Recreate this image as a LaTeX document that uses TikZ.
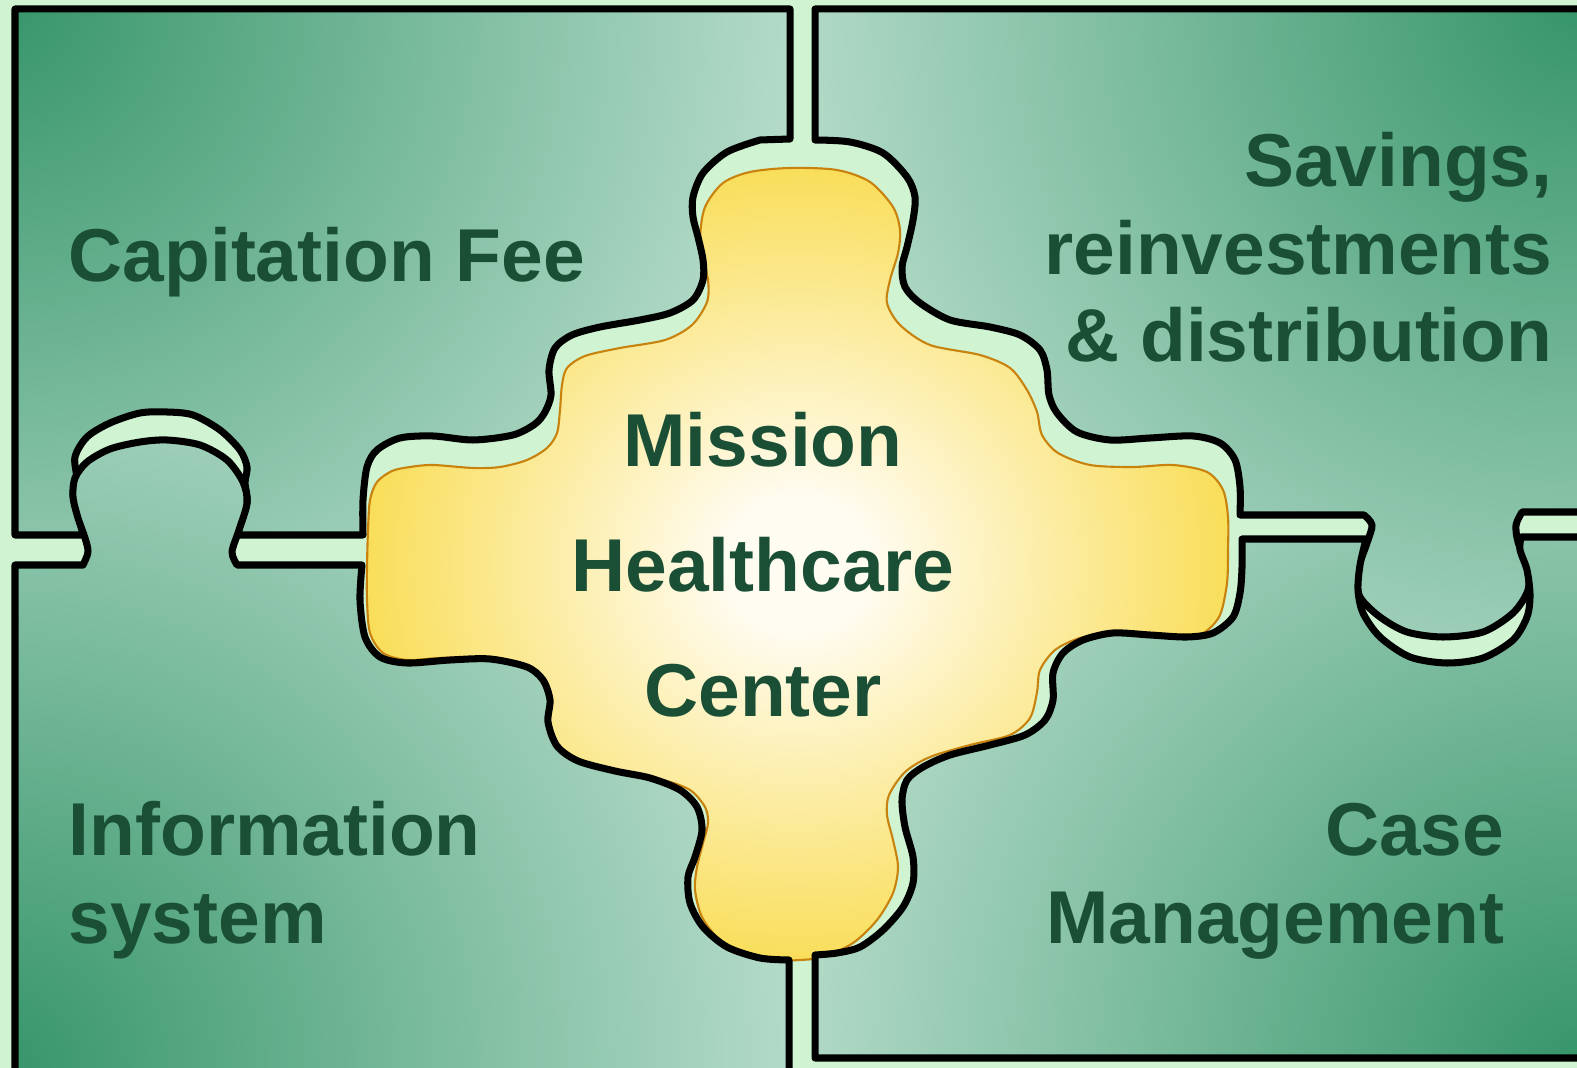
\documentclass[tikz,border=0pt]{standalone}
\usepackage{fontspec}
\setmainfont{Liberation Sans}

\definecolor{gapgreen}{HTML}{D0F3D2}
\definecolor{darkpiece}{HTML}{36956A}
\definecolor{lightpiece}{HTML}{B8DDCC}
\definecolor{textgreen}{HTML}{1A4F35}
\definecolor{rimorange}{HTML}{C8820E}
\definecolor{centercream}{HTML}{FFFCF2}
\definecolor{edgeyellow}{HTML}{F9DE5A}
\pgfdeclareradialshading{centerglow}{\pgfpoint{0bp}{0bp}}{color(0bp)=(centercream); color(4bp)=(centercream); color(25bp)=(edgeyellow); color(50bp)=(edgeyellow)}

\begin{document}
\begin{tikzpicture}[x=0.01cm, y=-0.01cm,
  piece/.style={draw=black, fill=lightpiece, line width=2pt, line join=round},
  shadefrom/.style={path picture={\shade[inner color=darkpiece, outer color=lightpiece] (#1) circle (820);}},
  piecetext/.style={text=textgreen, inner sep=0pt, font=\fontsize{21.3}{25}\selectfont\bfseries}]

  % Page and background
  \useasboundingbox (0,0) rectangle (1577,1068);
  \clip (0,0) rectangle (1577,1068);
  \fill[gapgreen] (0,0) rectangle (1577,1068);

  % Centre piece
  \shadedraw[shading=centerglow, draw=rimorange, line width=0.6pt] plot[smooth cycle] coordinates {
    (750,172) (790,168) (837,170) (870,182) (893,207) (900,230) (898,253) (890,280) (887,303)
    (900,325) (930,345) (980,355) (1010,368) (1027,390) (1037,412) (1042,435) (1058,453)
    (1090,465) (1133,467) (1173,465) (1207,472) (1223,490) (1228,517) (1228,550) (1227,583)
    (1220,615) (1205,632) (1187,637) (1150,635) (1113,633) (1080,638) (1055,650) (1040,670)
    (1037,692) (1030,718) (1010,735) (970,745) (930,757) (905,772) (889,795) (887,815)
    (893,840) (898,867) (893,893) (877,920) (853,943) (823,957) (800,960) (777,960) (747,953)
    (720,940) (702,917) (695,890) (697,867) (703,843) (708,823) (705,807) (690,790) (663,780)
    (620,772) (580,762) (558,748) (550,725) (551,700) (545,680) (527,667) (487,658) (440,658)
    (407,660) (383,653) (370,633) (367,600) (367,567) (368,530) (370,500) (377,482) (392,471)
    (410,467) (433,465) (473,468) (500,467) (527,460) (547,448) (557,433) (560,410) (562,385)
    (567,368) (585,356) (620,348) (665,340) (692,325) (707,302) (708,280) (702,258) (700,237)
    (705,207) (723,183)};

  % Top left piece
  \draw[piece, shadefrom={0,0}] (15,9) -- (790,9) -- (790,139) -- plot[smooth] coordinates {
    (760,140) (727,152) (703,173) (693,197) (693,217) (698,237) (703,260) (703,280) (693,300)
    (670,313) (640,320) (600,327) (572,335) (555,348) (549,370) (551,395) (545,412) (535,424)
    (513,435) (473,440) (433,436) (400,438) (377,450) (367,467) (363,500) (363,535)}
    -- (237,535) -- plot[smooth] coordinates {
    (237,535) (247,503) (245,483) (247,467) (240,450) (220,430) (193,415) (167,412) (140,413)
    (110,423) (87,437) (75,457) (77,480) (73,493) (78,513) (83,535)} -- (15,535) -- cycle;

  % Bottom left piece
  \draw[piece, shadefrom={0,1068}] (15,1090) -- (15,565) -- (83,565) -- plot[smooth] coordinates {
    (83,565) (88,552) (85,538) (78,518) (73,497) (75,478) (87,462) (110,449) (140,442) (167,440)
    (200,445) (227,460) (243,482) (247,503) (239,530) (232,552) (237,565)} -- (362,565)
    -- plot[smooth] coordinates {
    (362,565) (360,600) (365,637) (380,657) (407,663) (450,660) (490,659) (527,667) (543,680)
    (550,700) (548,722) (557,746) (578,761) (615,771) (650,778) (680,790) (697,807) (702,830)
    (695,857) (688,877) (690,903) (703,927) (727,947) (760,958) (789,960)} -- (789,1090) -- cycle;

  % Top right piece
  \draw[piece, shadefrom={1577,0}] (815,9) -- (1600,9) -- (1600,512) -- (1522,512) -- plot[smooth] coordinates {
    (1522,512) (1516,525) (1518,542) (1527,567) (1528,590) (1513,613) (1483,632) (1443,637)
    (1407,632) (1380,617) (1360,597) (1357,573) (1367,543) (1372,525) (1364,515)} -- (1240,515)
    -- plot[smooth] coordinates {
    (1240,515) (1240,487) (1235,460) (1220,443) (1193,436) (1150,438) (1110,440) (1077,432)
    (1057,413) (1049,395) (1047,370) (1040,350) (1020,335) (990,327) (950,320) (920,303)
    (905,287) (902,267) (907,247) (913,220) (915,197) (907,177) (883,153) (850,142) (815,140)} -- cycle;

  % Bottom right piece
  \draw[piece, shadefrom={1577,1068}] (815,1058) -- (1600,1058) -- (1600,537) -- (1521,537) -- plot[smooth] coordinates {
    (1521,537) (1520,550) (1527,570) (1530,595) (1527,617) (1513,640) (1483,658) (1447,663)
    (1410,657) (1380,637) (1363,613) (1358,590) (1360,565) (1366,539)} -- (1242,539)
    -- plot[smooth] coordinates {
    (1242,539) (1242,567) (1240,593) (1233,617) (1213,633) (1187,637) (1150,635) (1113,633)
    (1083,640) (1063,653) (1053,673) (1053,700) (1045,720) (1025,735) (990,745) (950,755)
    (923,767) (907,780) (902,800) (905,827) (913,857) (913,883) (903,907) (883,930) (860,947)
    (837,953) (815,955)} -- cycle;

  % Labels (base = last line)
  \node[piecetext, anchor=base west] (capfee) at (68,282) {Capitation Fee};
  \node[piecetext, anchor=base east, align=right] (savings) at (1553,362) {Savings,\\reinvestments\\\& distribution};
  \node[piecetext, anchor=base west, align=left] (infosys) at (68,943) {Information\\system};
  \node[piecetext, anchor=base east, align=right] (casemgmt) at (1505,943) {Case\\Management};
  \node[piecetext, anchor=base, align=center, font=\fontsize{21.3}{35.6}\selectfont\bfseries] (mission) at (763,717) {Mission\\Healthcare\\Center};

\end{tikzpicture}
\end{document}
